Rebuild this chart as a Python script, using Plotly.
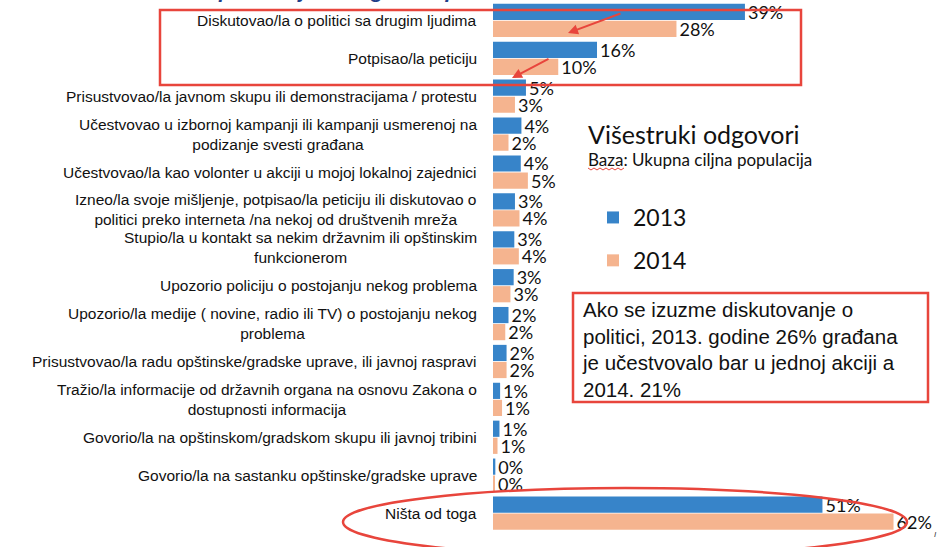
import plotly.graph_objects as go

# categories, top to bottom
activities = [
    "Diskutovao/la o politici sa drugim ljudima",
    "Potpisao/la peticiju",
    "Prisustvovao/la javnom skupu ili demonstracijama / protestu",
    "Učestvovao u izbornoj kampanji ili kampanji usmerenoj na<br>podizanje svesti građana",
    "Učestvovao/la kao volonter u akciji u mojoj lokalnoj zajednici",
    "Izneo/la svoje mišljenje, potpisao/la peticiju ili diskutovao o<br>politici preko interneta /na nekoj od društvenih mreža",
    "Stupio/la u kontakt sa nekim državnim ili opštinskim<br>funkcionerom",
    "Upozorio policiju o postojanju nekog problema",
    "Upozorio/la medije ( novine, radio ili TV) o postojanju nekog<br>problema",
    "Prisustvovao/la radu opštinske/gradske uprave, ili javnoj raspravi",
    "Tražio/la informacije od državnih organa na osnovu Zakona o<br>dostupnosti informacija",
    "Govorio/la na opštinskom/gradskom skupu ili javnoj tribini",
    "Govorio/la na sastanku opštinske/gradske uprave",
    "Ništa od toga",
]

# percentages (labels show rounded values)
pct_2013 = [39.0, 16.1, 5.1, 4.4, 4.3, 3.4, 3.3, 3.2, 2.4, 2.1, 1.1, 1.0, 0.36, 51.0]
pct_2014 = [28.4, 10.1, 3.4, 2.4, 5.4, 4.1, 4.0, 2.7, 1.9, 2.1, 1.4, 0.7, 0.2, 62.0]

years = ["2013", "2014"]

W, H = 943, 547
BLUE = "#3784C9"
PEACH = "#F5B48F"
RED = "#E8453C"


def px(x):
    return x / W


def py(y):
    return 1 - y / H


fig = go.Figure()

for year, vals, col in [(years[0], pct_2013, BLUE), (years[1], pct_2014, PEACH)]:
    fig.add_trace(go.Bar(
        y=activities, x=vals, orientation="h", name=year,
        legendgroup=year,
        marker=dict(color=col, line=dict(width=0)),
        texttemplate="%{x:.0f}%", textposition="outside",
        textfont=dict(family="Lato", size=18, color="#111111"),
        constraintext="none", cliponaxis=False,
    ))

# category labels, centred lines, right edge near the bars
for a in activities:
    fig.add_annotation(
        x=px(479), xref="paper", y=a, yref="y",
        xanchor="right", yanchor="middle", align="center",
        text=a, showarrow=False,
        font=dict(family="Liberation Sans, Arial", size=15.5, color="#111111"),
    )

# cut-off title
fig.add_annotation(
    x=px(466), y=py(4), xref="paper", yref="paper",
    xanchor="center", yanchor="bottom", showarrow=False,
    text="<b><i>Da li ste u poslednje 2 - 3 godine preduzeli neku od sledećih aktivnosti</i></b>",
    font=dict(family="Liberation Sans, Arial", size=21, color="#1F3F8A"),
)

fig.add_annotation(
    x=px(586), y=py(134), xref="paper", yref="paper",
    xanchor="left", yanchor="middle", showarrow=False,
    text="Višestruki odgovori",
    font=dict(family="Lato", size=25, color="#111111"),
)
fig.add_annotation(
    x=px(586), y=py(159), xref="paper", yref="paper",
    xanchor="left", yanchor="middle", showarrow=False,
    text="Baza: Ukupna ciljna populacija",
    font=dict(family="Lato", size=17, color="#111111"),
)

# spell-check squiggle under "Baza"
zig = "M %f,%f" % (px(588), py(168))
for i in range(1, 13):
    zig += " L %f,%f" % (px(588 + i * 3), py(168 + (2 if i % 2 else 0)))
fig.add_shape(type="path", xref="paper", yref="paper", path=zig,
              line=dict(color=RED, width=1))

# note box
fig.add_shape(type="rect", xref="paper", yref="paper",
              x0=px(573), x1=px(928), y0=py(293), y1=py(402),
              line=dict(color=RED, width=2.5))
fig.add_annotation(
    x=px(580), y=py(349), xref="paper", yref="paper",
    xanchor="left", yanchor="middle", align="left", showarrow=False,
    text="Ako se izuzme diskutovanje o<br>politici, 2013. godine 26% građana<br>"
         "je učestvovalo bar u jednoj akciji a<br>2014. 21%",
    font=dict(family="Liberation Sans, Arial", size=20.5, color="#111111"),
)

# highlight box around the top two rows
fig.add_shape(type="rect", xref="paper", yref="paper",
              x0=px(160), x1=px(801), y0=py(10), y1=py(85),
              line=dict(color=RED, width=2.5))

# ellipse around "Ništa od toga"
fig.add_shape(type="circle", xref="paper", yref="paper",
              x0=px(343), x1=px(907), y0=py(488), y1=py(556),
              line=dict(color=RED, width=2.5))

# red arrows
for x0, y0, x1, y1 in [(622, 13, 568, 33), (550, 58, 512, 78)]:
    fig.add_annotation(
        x=px(x1), y=py(y1), xref="paper", yref="paper",
        ax=x0 - x1, ay=y0 - y1, text="", showarrow=True,
        arrowhead=2, arrowsize=1, arrowwidth=2, arrowcolor=RED,
    )

fig.add_annotation(
    x=px(939), y=py(541), xref="paper", yref="paper",
    showarrow=False, text="<i>I</i>",
    font=dict(family="Liberation Sans, Arial", size=8, color="#333333"),
)

fig.update_layout(
    width=W, height=H,
    margin=dict(l=0, r=0, t=0, b=0),
    paper_bgcolor="white", plot_bgcolor="white",
    barmode="group", bargap=0.1, bargroupgap=0.05,
    showlegend=True,
    legend=dict(
        x=px(593), y=py(196), xanchor="left", yanchor="top",
        traceorder="grouped", tracegroupgap=10,
        font=dict(family="Lato", size=23, color="#111111"),
        bgcolor="rgba(0,0,0,0)",
    ),
    xaxis=dict(domain=[px(493), 1], range=[0, 450 / 6.46], visible=False),
    yaxis=dict(domain=[py(532), py(1.5)], range=[13.5, -0.5], visible=False,
               categoryorder="array", categoryarray=activities),
)

# drop the browser's default page margin so the figure sits at the window corner
fig.write_html("out.html", config={"displayModeBar": False},
               post_script="document.body.style.margin='0';")
